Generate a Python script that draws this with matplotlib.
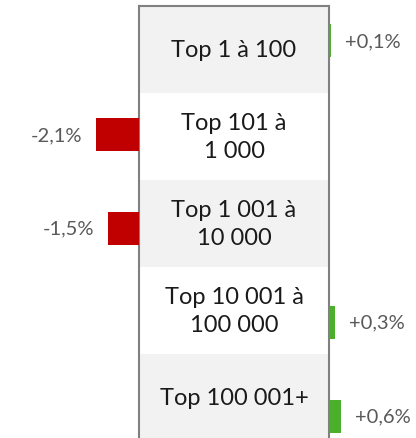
import matplotlib.pyplot as plt

# data
categories = ['Top 1 à 100', 'Top 101 à\n1 000', 'Top 1 001 à\n10 000',
              'Top 10 001 à\n100 000', 'Top 100 001+']
changes = [0.1, -2.1, -1.5, 0.3, 0.6]
labels = ['+0,1%', '-2,1%', '-1,5%', '+0,3%', '+0,6%']

W, H = 416, 439
px_per_pct = 20.5
red = '#c00000'
green = '#4caf2c'
label_gray = '#595959'
border = '#808080'

plt.rcParams['font.family'] = ['Lato', 'DejaVu Sans']

fig = plt.figure(figsize=(W / 100, H / 100), dpi=100)

left_edge, right_edge, top_edge = 139, 329, 7
row_h = 87
bar_first, bar_step = 41.5, 93.9

# table in the middle
ax_t = fig.add_axes([left_edge / W, 0, (right_edge - left_edge) / W, (H - top_edge) / H])
ax_t.set_xlim(0, 1)
ax_t.set_ylim((H - top_edge) / row_h, 0)
for i, cat in enumerate(categories):
    if i % 2 == 0:
        ax_t.axhspan(i, i + 1, color='#f2f2f2', lw=0)
    ax_t.text(0.5, i + 0.5, cat, ha='center', va='center', fontsize=17,
              color='#1a1a1a', linespacing=1.45)
ax_t.set_xticks([])
ax_t.set_yticks([])
for s in ['top', 'left', 'right']:
    ax_t.spines[s].set_color(border)
    ax_t.spines[s].set_linewidth(1.5)
ax_t.spines['bottom'].set_visible(False)

# bar axes on both sides
ylim = ((H - bar_first) / bar_step, -bar_first / bar_step)
ax_l = fig.add_axes([0, 0, left_edge / W, 1])
ax_l.set_xlim(-left_edge / px_per_pct, 0)
ax_r = fig.add_axes([right_edge / W, 0, (W - right_edge) / W, 1])
ax_r.set_xlim(0, (W - right_edge) / px_per_pct)

for ax in (ax_l, ax_r):
    ax.set_ylim(*ylim)
    ax.axis('off')
    ax.patch.set_alpha(0)

for i, (v, lab) in enumerate(zip(changes, labels)):
    if v < 0:
        ax_l.barh(i, v, height=0.35, color=red)
        ax_l.annotate(lab, (v, i), xytext=(-10, 0), textcoords='offset points',
                      ha='right', va='center', fontsize=14.5, color=label_gray)
    else:
        ax_r.barh(i, v, height=0.35, color=green)
        ax_r.annotate(lab, (v, i), xytext=(10, 0), textcoords='offset points',
                      ha='left', va='center', fontsize=14.5, color=label_gray)

fig.savefig('out.png', dpi=100)
